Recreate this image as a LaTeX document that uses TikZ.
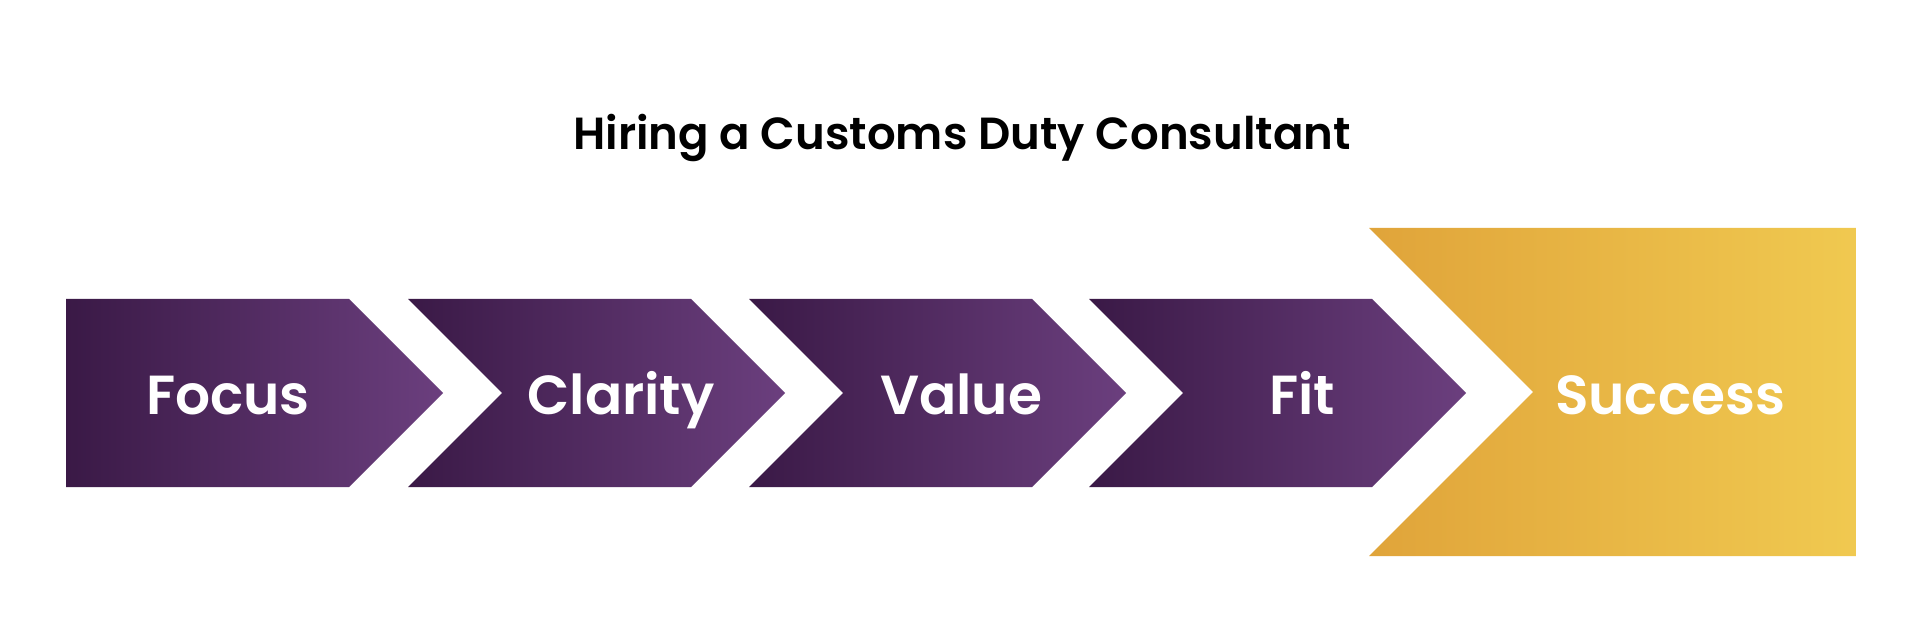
\documentclass[tikz,border=0pt]{standalone}
\usepackage{fontspec}
\newfontfamily\popsb{Poppins SemiBold}
\definecolor{purpL}{HTML}{3A1946}
\definecolor{purpR}{HTML}{6B3F7E}
\definecolor{goldL}{HTML}{E0A43A}
\definecolor{goldR}{HTML}{F0C950}
\tikzset{
  purparrow/.style={left color=purpL, right color=purpR, draw=none},
  goldarrow/.style={left color=goldL, right color=goldR, draw=none},
  steplabel/.style={text=white, font=\popsb\fontsize{27.5}{32}\selectfont, inner sep=0pt, anchor=base},
  titlelabel/.style={text=black, font=\popsb\fontsize{22.5}{27}\selectfont, inner sep=0pt, anchor=base}
}
\begin{document}
\begin{tikzpicture}[x=0.5pt,y=-0.5pt]
\useasboundingbox (0,0) rectangle (1920,625);
\fill[white] (0,0) rectangle (1920,625);
% arrow 1
\shade[purparrow] (66,299) -- (349,299) -- (443,393) -- (349,487) -- (66,487) -- cycle;
% arrow 2
\shade[purparrow] (408,299) -- (691,299) -- (785,393) -- (691,487) -- (408,487) -- (502,393) -- cycle;
% arrow 3
\shade[purparrow] (749,299) -- (1032,299) -- (1126,393) -- (1032,487) -- (749,487) -- (843,393) -- cycle;
% arrow 4
\shade[purparrow] (1089,299) -- (1372,299) -- (1466,393) -- (1372,487) -- (1089,487) -- (1183,393) -- cycle;
% success
\shade[goldarrow] (1369,228) -- (1856,228) -- (1856,556) -- (1369,556) -- (1533,392) -- cycle;
\node[titlelabel] (title) at (962,150) {Hiring a Customs Duty Consultant};
\node[steplabel] (focus) at (228,414) {Focus};
\node[steplabel] (clarity) at (621,414) {Clarity};
\node[steplabel] (value) at (961,414) {Value};
\node[steplabel] (fit) at (1302,414) {Fit};
\node[steplabel] (success) at (1670,414) {Success};
\end{tikzpicture}
\end{document}
